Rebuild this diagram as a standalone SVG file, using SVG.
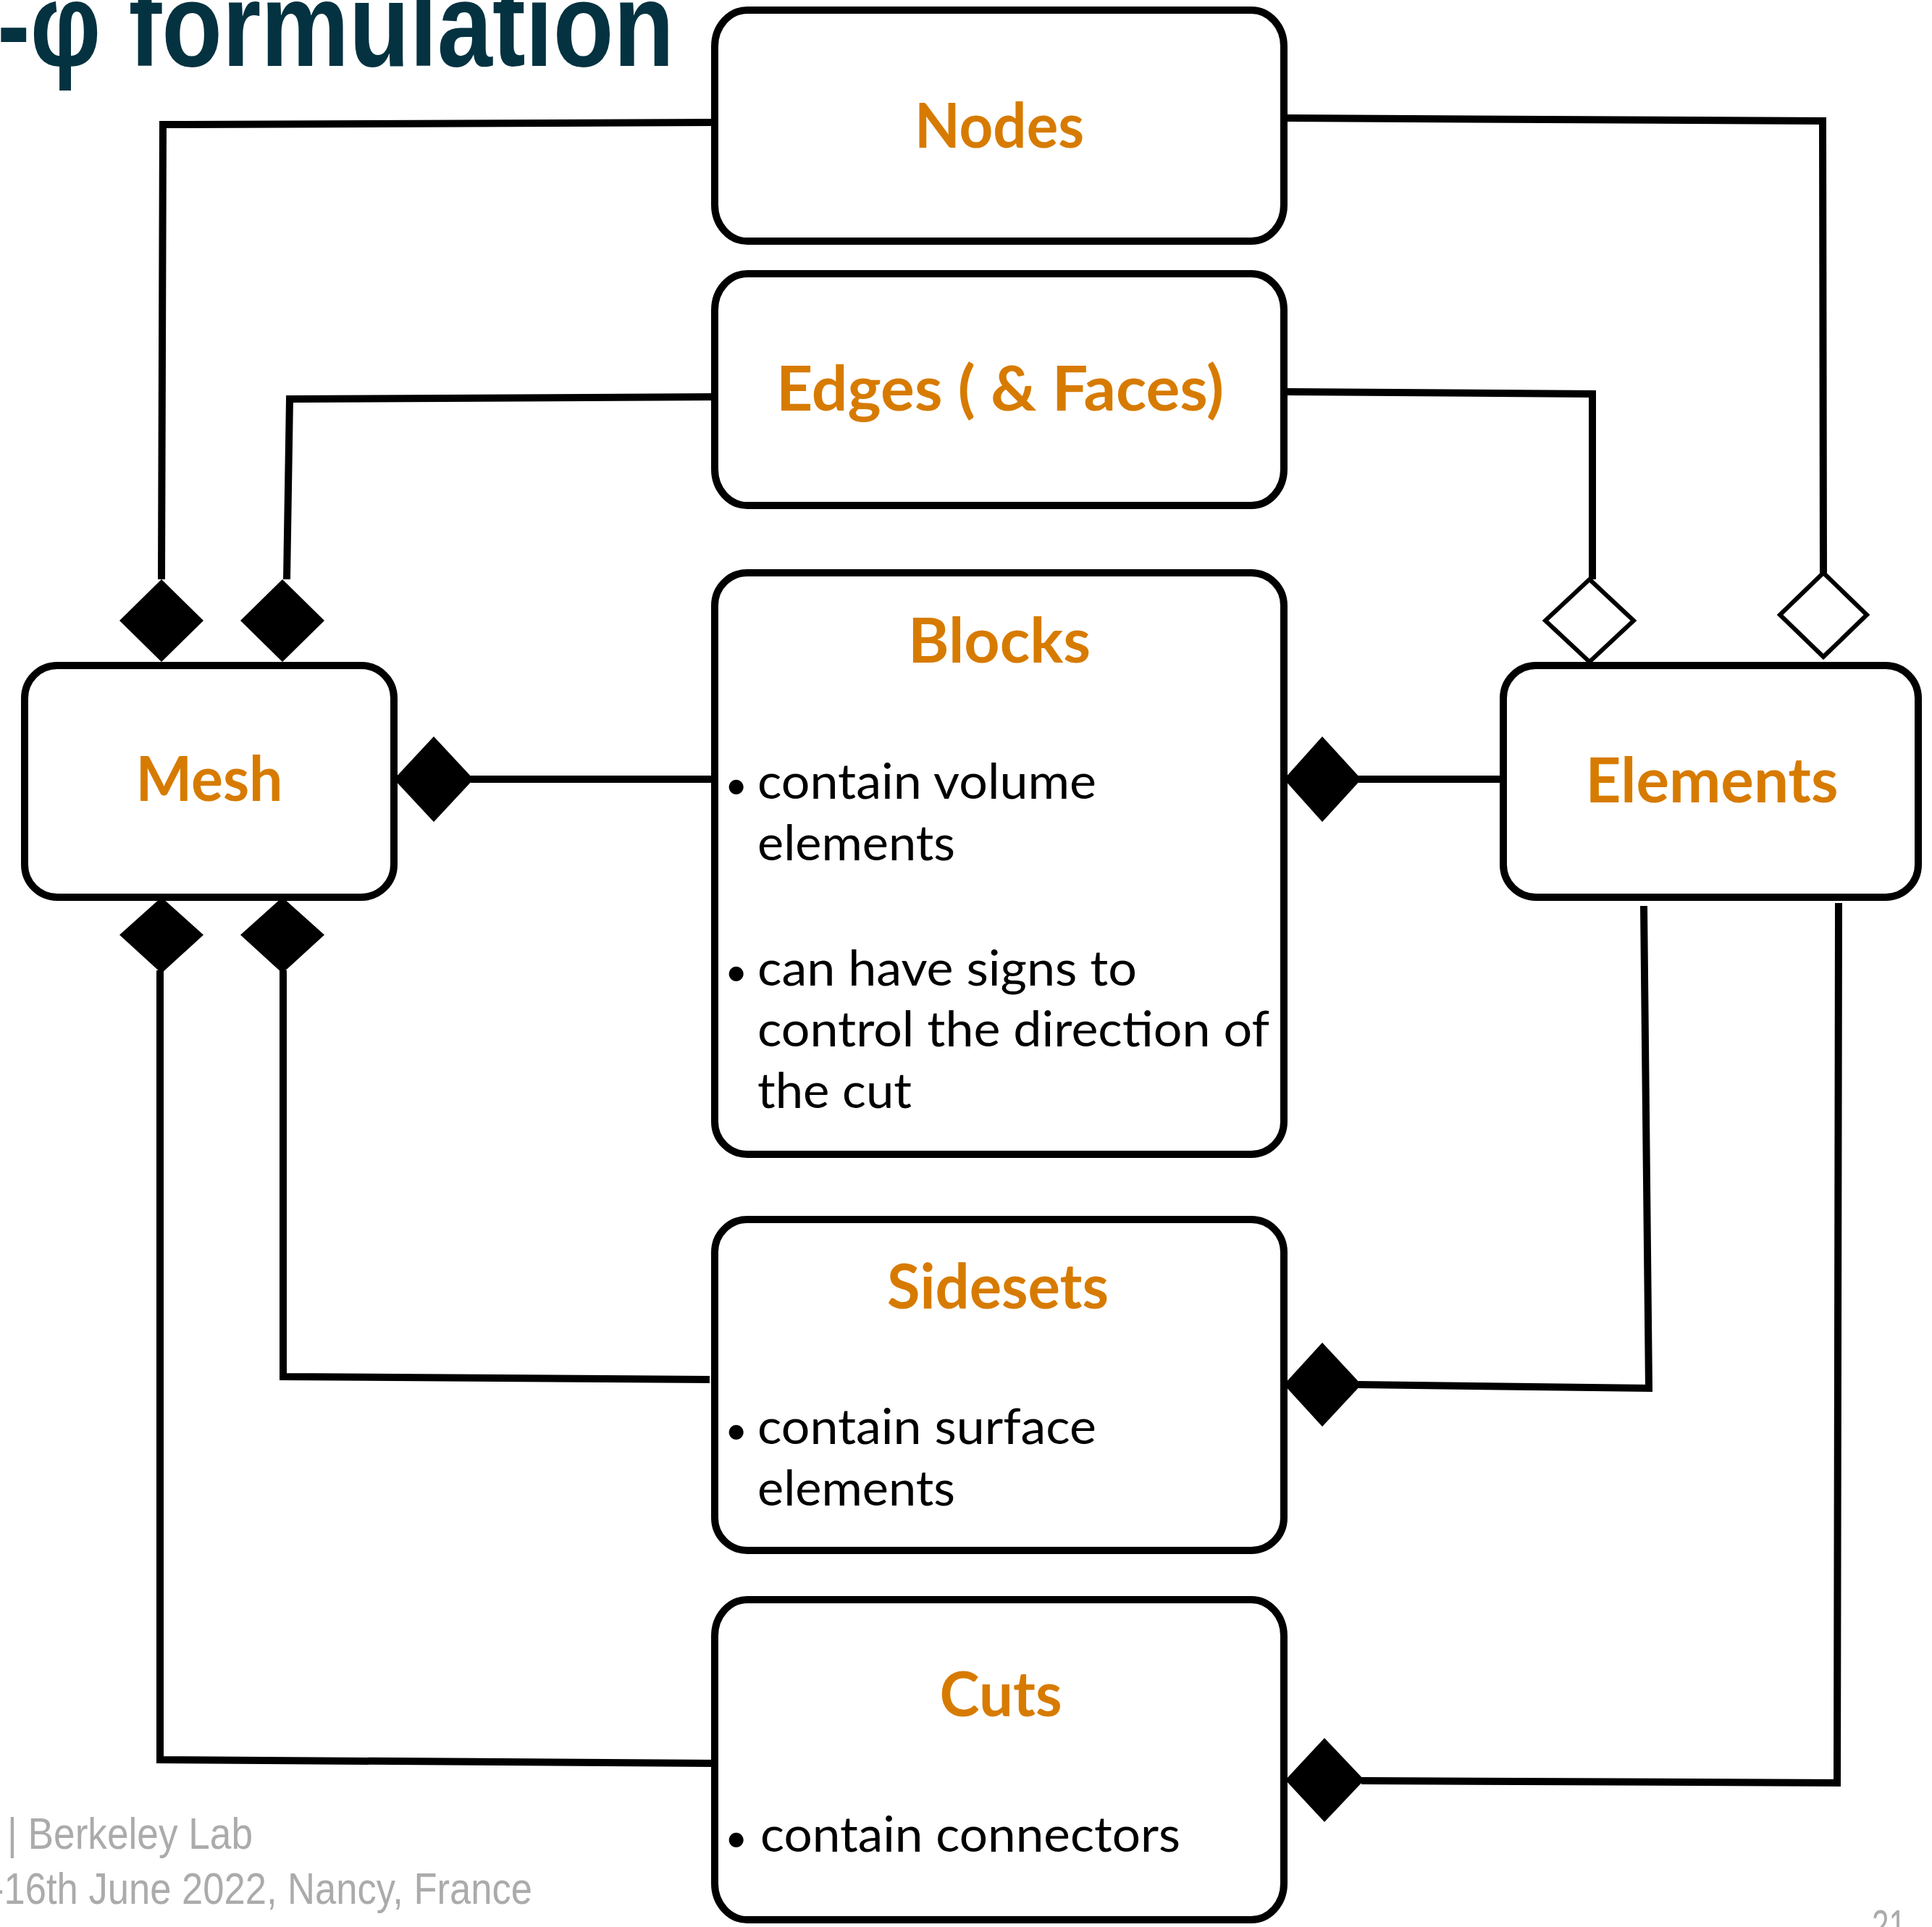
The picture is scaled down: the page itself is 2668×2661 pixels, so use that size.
<svg xmlns="http://www.w3.org/2000/svg" width="2668" height="2661" viewBox="0 0 2668 2661">
<style>
.box{fill:#fff;stroke:#000;stroke-width:10}
.con{fill:none;stroke:#000;stroke-width:10;stroke-linejoin:miter}
.fd{fill:#000;stroke:none}
.od{fill:#fff;stroke:#000;stroke-width:6}
.ttl{font-family:Lato,"Open Sans","DejaVu Sans",sans-serif;font-weight:bold;font-size:86px;fill:#D77B00}
.body{font-family:Lato,"Open Sans","DejaVu Sans",sans-serif;font-size:68px;fill:#000}
.bul{font-size:54px}
.foot{font-family:"Liberation Sans",Arial,sans-serif;font-size:62px;fill:#ababab}
.head{font-family:"Liberation Sans",Arial,sans-serif;font-weight:bold;font-size:165px;fill:#053240}
</style>
<rect width="2668" height="2661" fill="#fff"/>
<text class="head" x="-4" y="91" textLength="935" lengthAdjust="spacingAndGlyphs">-φ formulation</text>

<g id="connectors">
  <path class="con" d="M987,169 L225,172 L223,800"/>
  <path class="fd" d="M223,800 L281,857 L223,914 L165,857 Z"/>
  <path class="con" d="M987,548 L400,551 L396,800"/>
  <path class="fd" d="M390,800 L448,857 L390,914 L332,857 Z"/>
  <path class="con" d="M987,1076 L650,1076"/>
  <path class="fd" d="M544,1076 L599,1017 L654,1076 L599,1135 Z"/>
  <path class="con" d="M980,1905 L391,1901 L391,1340"/>
  <path class="fd" d="M390,1239 L448,1291 L390,1344 L332,1291 Z"/>
  <path class="con" d="M987,2435 L221,2430 L221,1340"/>
  <path class="fd" d="M223,1239 L281,1291 L223,1344 L165,1291 Z"/>
  <path class="con" d="M1773,163 L2517,167 L2518,791"/>
  <path class="od" d="M2518,791 L2578,849 L2518,907 L2458,849 Z"/>
  <path class="con" d="M1773,541 L2199,544 L2199,800"/>
  <path class="od" d="M2195,800 L2256,857 L2195,914 L2134,857 Z"/>
  <path class="con" d="M2076,1076 L1876,1076"/>
  <path class="fd" d="M1773,1076 L1826,1017 L1880,1076 L1826,1135 Z"/>
  <path class="con" d="M2270,1251 L2277,1917 L1876,1912"/>
  <path class="fd" d="M1773,1912 L1826,1854 L1880,1912 L1826,1970 Z"/>
  <path class="con" d="M2539,1247 L2537,2462 L1880,2459"/>
  <path class="fd" d="M1775,2458 L1829,2400 L1884,2458 L1829,2516 Z"/>
</g>

<g id="nodes">
  <rect class="box" x="987" y="14" width="786" height="319" rx="45" ry="50"/>
  <text class="ttl" x="1380" y="204" text-anchor="middle" textLength="234" lengthAdjust="spacingAndGlyphs">Nodes</text>
</g>
<g id="edges">
  <rect class="box" x="987" y="378" width="786" height="320" rx="45" ry="50"/>
  <text class="ttl" x="1381" y="567" text-anchor="middle" textLength="618" lengthAdjust="spacingAndGlyphs">Edges ( &amp; Faces)</text>
</g>
<g id="blocks">
  <rect class="box" x="987" y="791" width="786" height="803" rx="45" ry="45"/>
  <text class="ttl" x="1380" y="915" text-anchor="middle" textLength="252" lengthAdjust="spacingAndGlyphs">Blocks</text>
  <text class="body" y="1103"><tspan class="bul" x="1001">•</tspan><tspan x="1046" textLength="468" lengthAdjust="spacingAndGlyphs">contain volume</tspan></text>
  <text class="body" x="1046" y="1188" textLength="273" lengthAdjust="spacingAndGlyphs">elements</text>
  <text class="body" y="1361"><tspan class="bul" x="1001">•</tspan><tspan x="1046" textLength="524" lengthAdjust="spacingAndGlyphs">can have signs to</tspan></text>
  <text class="body" x="1046" y="1445" textLength="707" lengthAdjust="spacingAndGlyphs">control the direction of</text>
  <text class="body" x="1046" y="1530" textLength="213" lengthAdjust="spacingAndGlyphs">the cut</text>
</g>
<g id="sidesets">
  <rect class="box" x="987" y="1684" width="786" height="457" rx="45" ry="45"/>
  <text class="ttl" x="1378" y="1807" text-anchor="middle" textLength="306" lengthAdjust="spacingAndGlyphs">Sidesets</text>
  <text class="body" y="1994"><tspan class="bul" x="1001">•</tspan><tspan x="1046" textLength="468" lengthAdjust="spacingAndGlyphs">contain surface</tspan></text>
  <text class="body" x="1046" y="2079" textLength="273" lengthAdjust="spacingAndGlyphs">elements</text>
</g>
<g id="cuts">
  <rect class="box" x="987" y="2209" width="786" height="442" rx="45" ry="50"/>
  <text class="ttl" x="1382" y="2370" text-anchor="middle" textLength="169" lengthAdjust="spacingAndGlyphs">Cuts</text>
  <text class="body" y="2557"><tspan class="bul" x="1001">•</tspan><tspan x="1050" textLength="580" lengthAdjust="spacingAndGlyphs">contain connectors</tspan></text>
</g>
<g id="mesh">
  <rect class="box" x="34" y="919" width="510" height="320" rx="45" ry="45"/>
  <text class="ttl" x="289" y="1106" text-anchor="middle" textLength="203" lengthAdjust="spacingAndGlyphs">Mesh</text>
</g>
<g id="elements">
  <rect class="box" x="2076" y="919" width="573" height="320" rx="45" ry="45"/>
  <text class="ttl" x="2364" y="1108" text-anchor="middle" textLength="349" lengthAdjust="spacingAndGlyphs">Elements</text>
</g>

<text class="foot" x="10" y="2553" textLength="339" lengthAdjust="spacingAndGlyphs">| Berkeley Lab</text>
<text class="foot" x="-12" y="2629" textLength="747" lengthAdjust="spacingAndGlyphs">-16th June 2022, Nancy, France</text>
<text class="foot" x="2585" y="2680" textLength="47" lengthAdjust="spacingAndGlyphs">21</text>
</svg>
